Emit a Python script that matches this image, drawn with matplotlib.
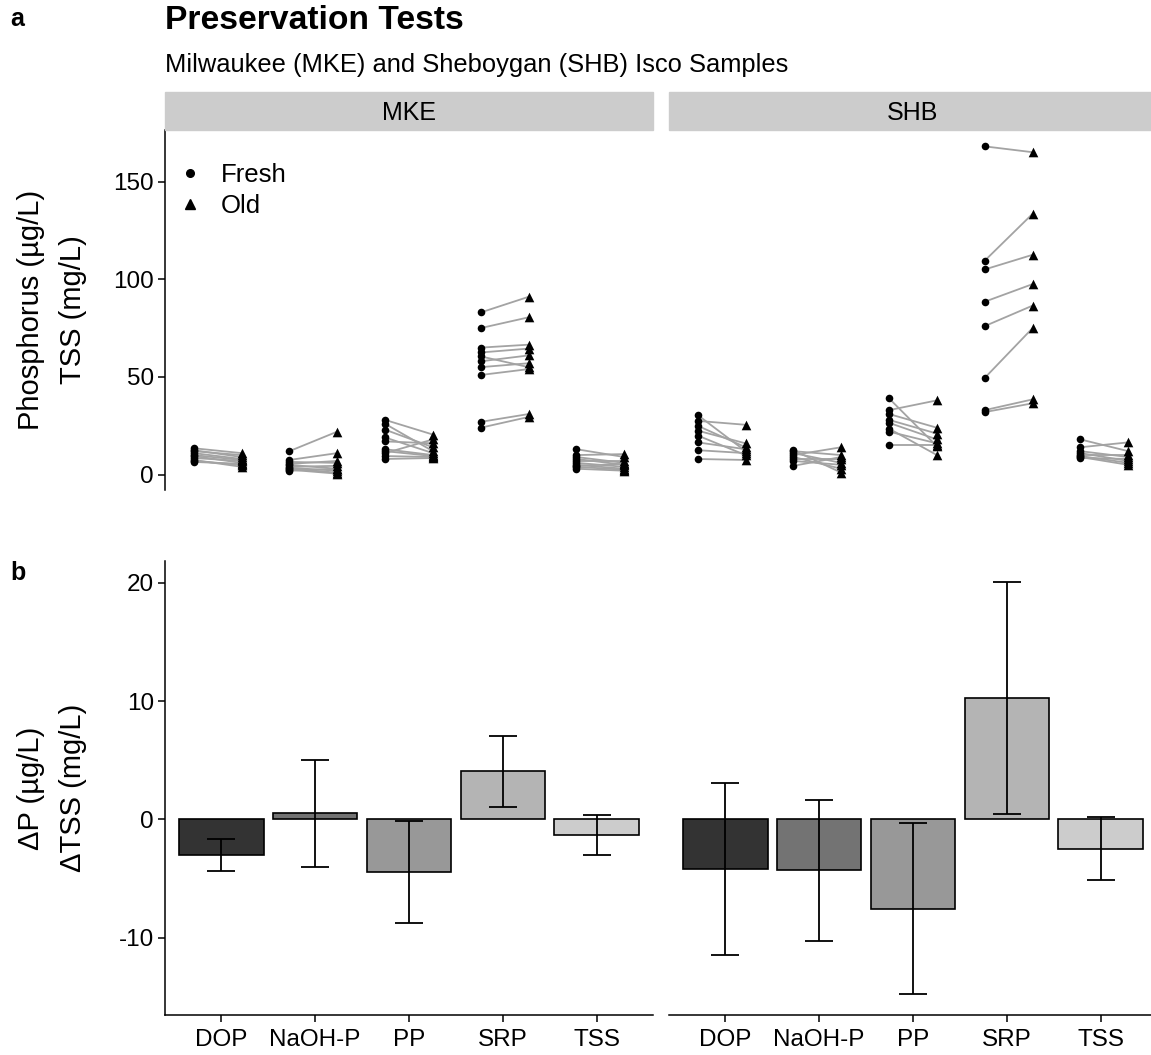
import numpy as np
import matplotlib
matplotlib.use('Agg')
import matplotlib.pyplot as plt
from matplotlib.lines import Line2D
from matplotlib.patches import Rectangle

plt.rcParams['font.family'] = ['Liberation Sans', 'DejaVu Sans']
plt.rcParams['axes.unicode_minus'] = False

sites = ['MKE', 'SHB']
analytes = ['DOP', 'NaOH-P', 'PP', 'SRP', 'TSS']

# paired Isco samples, fresh vs. old (P in ug/L, TSS in mg/L)
mke_dop_fresh = [13.5, 12.5, 12, 11, 10, 9.5, 8.5, 7.5, 7, 6.5]
mke_dop_old = [11, 9, 10, 8, 7.5, 6, 7, 4, 5, 5.5]
mke_naoh_fresh = [12, 7.5, 6.5, 5.5, 5, 4, 3.5, 3, 2.5, 2]
mke_naoh_old = [22, 11, 6, 7, 3, 4.5, 2, 1, 0.5, 3]
mke_pp_fresh = [28, 26, 23, 19, 17, 13, 12, 11, 9.5, 8]
mke_pp_old = [20.5, 12, 14, 11, 16, 10, 9.5, 18, 9, 8.5]
mke_srp_fresh = [83, 75, 65, 62.5, 60.5, 58, 55, 51, 27, 24]
mke_srp_old = [91, 80.5, 66.5, 64.5, 55, 61, 57, 54, 31, 29.5]
mke_tss_fresh = [13, 10, 9, 8, 7, 6, 5, 4.5, 4, 3]
mke_tss_old = [9, 10.5, 6, 5, 7, 4, 3, 5.5, 2.5, 2]

shb_dop_fresh = [30.5, 27.5, 25, 22.5, 20, 16.5, 12.5, 8]
shb_dop_old = [12, 25.5, 14, 16, 10, 13, 11, 7.5]
shb_naoh_fresh = [12.5, 12, 11, 10, 9, 8, 7, 4.5]
shb_naoh_old = [1, 10, 6, 14, 3, 8, 5, 9]
shb_pp_fresh = [39, 33, 31, 28, 26.5, 23.5, 22, 15]
shb_pp_old = [14.5, 38, 24, 21, 18, 10, 16, 15]
shb_srp_fresh = [168, 109.5, 105, 88.5, 76, 49.5, 33, 32]
shb_srp_old = [165, 133.5, 112.5, 97.5, 86.5, 75, 38.5, 36.5]
shb_tss_fresh = [18, 14, 12, 11, 10, 9.5, 9, 8.5]
shb_tss_old = [12, 16.5, 9, 7, 10, 6, 5, 8]

# mean change (old - fresh) and interval half-width
mke_delta = [-3.05, 0.5, -4.45, 4.05, -1.35]
mke_ci = [1.35, 4.5, 4.35, 3.0, 1.7]
shb_delta = [-4.2, -4.3, -7.55, 10.27, -2.5]
shb_ci = [7.3, 5.95, 7.25, 9.83, 2.67]

pairs = {
    'MKE': [(mke_dop_fresh, mke_dop_old), (mke_naoh_fresh, mke_naoh_old),
            (mke_pp_fresh, mke_pp_old), (mke_srp_fresh, mke_srp_old),
            (mke_tss_fresh, mke_tss_old)],
    'SHB': [(shb_dop_fresh, shb_dop_old), (shb_naoh_fresh, shb_naoh_old),
            (shb_pp_fresh, shb_pp_old), (shb_srp_fresh, shb_srp_old),
            (shb_tss_fresh, shb_tss_old)],
}
deltas = {'MKE': (mke_delta, mke_ci), 'SHB': (shb_delta, shb_ci)}

bar_greys = ['#333333', '#737373', '#989898', '#b4b4b4', '#cccccc']

W, H = 1151, 1055
fig = plt.figure(figsize=(W / 100, H / 100), dpi=100)


def box(l, t, r, b):
    return [l / W, 1 - b / H, (r - l) / W, (b - t) / H]


def expand(lo, hi, frac=0.05):
    pad = (hi - lo) * frac
    return lo - pad, hi + pad


# shared y ranges (fixed facet scales)
all_top = [v for s in sites for f, o in pairs[s] for v in f + o]
top_lim = expand(min(all_top), max(all_top))
all_bot = [m + sgn * c for s in sites for m, c in zip(*deltas[s]) for sgn in (-1, 1)]
bot_lim = expand(min(all_bot), max(all_bot))

tick_fs = 17.5
lefts = {'MKE': 165, 'SHB': 669}
rights = {'MKE': 653, 'SHB': 1157}

for s in sites:
    l, r = lefts[s], rights[s]

    # ---- panel a: paired points ----
    ax = fig.add_axes(box(l, 130, r, 490))
    for i, (fresh, old) in enumerate(pairs[s]):
        xf, xo = 2 * i, 2 * i + 1
        for f, o in zip(fresh, old):
            ax.plot([xf, xo], [f, o], color='#a3a3a3', lw=1.3, zorder=1)
        ax.scatter([xf] * len(fresh), fresh, marker='o', s=30, color='black',
                   linewidths=0, zorder=3)
        ax.scatter([xo] * len(old), old, marker='^', s=48, color='black',
                   linewidths=0, zorder=3)
    ax.set_xlim(-0.6, 9.6)
    ax.set_ylim(*top_lim)
    ax.set_xticks([])
    for sp in ['top', 'right', 'bottom']:
        ax.spines[sp].set_visible(False)
    if s == 'MKE':
        ax.spines['left'].set_linewidth(1.1)
        ax.set_yticks([0, 50, 100, 150])
        ax.tick_params(axis='y', labelsize=tick_fs, length=5, width=1.1, pad=3)
        handles = [Line2D([], [], marker='o', ls='none', color='black', markersize=5.5),
                   Line2D([], [], marker='^', ls='none', color='black', markersize=6.5)]
        ax.legend(handles, ['Fresh', 'Old'], loc='upper left', frameon=False,
                  fontsize=18.5, bbox_to_anchor=(-0.048, 1.0), handletextpad=0.6,
                  labelspacing=0.25, borderaxespad=0.9, handlelength=1.2)
    else:
        ax.spines['left'].set_visible(False)
        ax.set_yticks([])

    # facet strip
    fig.patches.append(Rectangle((l / W, 1 - 130 / H), (r - l) / W, 38 / H,
                                 transform=fig.transFigure, color='#cccccc', zorder=0))
    fig.text((l + r) / 2 / W, 1 - 120 / H, s,
             ha='center', va='baseline', fontsize=18)

    # ---- panel b: mean change bars ----
    bx = fig.add_axes(box(l, 561, r, 1015))
    delta, ci = deltas[s]
    xs = np.arange(len(analytes))
    bx.bar(xs, delta, width=0.9, color=bar_greys, edgecolor='black', linewidth=1.2,
           zorder=2)
    lo = np.array(delta) - np.array(ci)
    hi = np.array(delta) + np.array(ci)
    bx.vlines(xs, lo, hi, color='black', lw=1.3, zorder=3)
    bx.hlines(lo, xs - 0.15, xs + 0.15, color='black', lw=1.3, zorder=3)
    bx.hlines(hi, xs - 0.15, xs + 0.15, color='black', lw=1.3, zorder=3)
    bx.set_xlim(-0.6, 4.6)
    bx.set_ylim(*bot_lim)
    bx.set_xticks(xs)
    bx.set_xticklabels(analytes)
    bx.tick_params(axis='x', labelsize=tick_fs, length=5, width=1.1, pad=5)
    for sp in ['top', 'right']:
        bx.spines[sp].set_visible(False)
    bx.spines['bottom'].set_linewidth(1.1)
    if s == 'MKE':
        bx.spines['left'].set_linewidth(1.1)
        bx.set_yticks([-10, 0, 10, 20])
        bx.tick_params(axis='y', labelsize=tick_fs, length=5, width=1.1, pad=3)
    else:
        bx.spines['left'].set_visible(False)
        bx.set_yticks([])

# titles, panel tags and axis titles
fig.text(10 / W, 1 - 26 / H, 'a', fontsize=18, fontweight='bold', va='baseline')
fig.text(10 / W, 1 - 580 / H, 'b', fontsize=18, fontweight='bold', va='baseline')
fig.text(165 / W, 1 - 29 / H, 'Preservation Tests', fontsize=24.2, fontweight='bold',
         va='baseline')
fig.text(165 / W, 1 - 72 / H, 'Milwaukee (MKE) and Sheboygan (SHB) Isco Samples',
         fontsize=18.4, va='baseline')

fig.text(31 / W, 1 - 310 / H, 'Phosphorus (µg/L)', rotation=90, ha='center',
         va='center', fontsize=21)
fig.text(73 / W, 1 - 310 / H, 'TSS (mg/L)', rotation=90, ha='center',
         va='center', fontsize=21)
fig.text(31 / W, 1 - 788 / H, 'ΔP (µg/L)', rotation=90, ha='center',
         va='center', fontsize=21)
fig.text(73 / W, 1 - 788 / H, 'ΔTSS (mg/L)', rotation=90, ha='center',
         va='center', fontsize=21)

fig.savefig('out.png', dpi=100)
